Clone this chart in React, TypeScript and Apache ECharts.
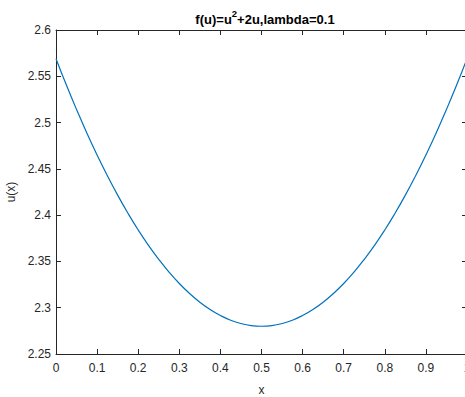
import React, { useEffect, useRef } from "react";
import * as echarts from "echarts";

const xValues = [
  0, 0.025, 0.05, 0.075, 0.1, 0.125, 0.15, 0.175, 0.2, 0.225, 0.25, 0.275, 0.3, 0.325, 0.35, 0.375, 0.4, 0.425, 0.45, 0.475, 0.5,
  0.525, 0.55, 0.575, 0.6, 0.625, 0.65, 0.675, 0.7, 0.725, 0.75, 0.775, 0.8, 0.825, 0.85, 0.875, 0.9, 0.925, 0.95, 0.975, 1,
];
const uValues = [
  2.569, 2.5408, 2.5141, 2.4888, 2.465, 2.4426, 2.4216, 2.4021, 2.384, 2.3674, 2.3523, 2.3385, 2.3262, 2.3154, 2.306, 2.2981, 2.2916,
  2.2865, 2.2829, 2.2807, 2.28, 2.2807, 2.2829, 2.2865, 2.2916, 2.2981, 2.306, 2.3154, 2.3262, 2.3385, 2.3523, 2.3674, 2.384, 2.4021,
  2.4216, 2.4426, 2.465, 2.4888, 2.5141, 2.5408, 2.569,
];
const titleText = "f(u)=u{sup|2}+2u,lambda=0.1";
const xName = "x";
const yName = "u(x)";

const FONT = "Liberation Sans, Arial, Helvetica, sans-serif";
const AX = "#262626";

export default function App() {
  const ref = useRef<HTMLDivElement>(null);
  useEffect(() => {
    if (!ref.current) return;
    const chart = echarts.init(ref.current, undefined, { renderer: "svg" });
    const axisCommon = {
      axisLine: { show: true, onZero: false, lineStyle: { color: AX, width: 1 } },
      axisTick: { show: true, inside: true, length: 5, lineStyle: { color: AX, width: 1 } },
      splitLine: { show: false },
    };
    chart.setOption({
      animation: false,
      backgroundColor: "#ffffff",
      title: {
        text: titleText,
        left: 260,
        textAlign: "center",
        top: 3,
        textStyle: {
          fontFamily: FONT,
          fontSize: 13,
          fontWeight: "bold",
          color: "#000",
          lineHeight: 22,
          rich: {
            sup: { fontFamily: FONT, fontSize: 9.5, fontWeight: "bold", color: "#000", lineHeight: 10, verticalAlign: "top" },
          },
        },
      },
      grid: { left: 56, top: 30, width: 411, height: 324, containLabel: false, outerBoundsMode: "none" },
      xAxis: [
        {
          type: "value",
          min: 0,
          max: 1,
          interval: 0.1,
          position: "bottom",
          name: xName,
          nameLocation: "middle",
          nameGap: 30,
          nameTextStyle: { fontFamily: FONT, fontSize: 12, color: AX },
          axisLabel: {
            fontFamily: FONT,
            fontSize: 12,
            color: AX,
            margin: 8,
            showMaxLabel: true,
            hideOverlap: false,
            formatter: (v: number) => String(+v.toFixed(2)),
          },
          ...axisCommon,
        },
        {
          type: "value",
          min: 0,
          max: 1,
          interval: 0.1,
          position: "top",
          axisLabel: { show: false },
          ...axisCommon,
        },
      ],
      yAxis: [
        {
          type: "value",
          min: 2.25,
          max: 2.6,
          interval: 0.05,
          position: "left",
          name: yName,
          nameLocation: "middle",
          nameGap: 38,
          nameRotate: 90,
          nameTextStyle: { fontFamily: FONT, fontSize: 12, color: AX },
          axisLabel: {
            fontFamily: FONT,
            fontSize: 12,
            color: AX,
            margin: 5,
            formatter: (v: number) => String(+v.toFixed(2)),
          },
          ...axisCommon,
        },
        {
          type: "value",
          min: 2.25,
          max: 2.6,
          interval: 0.05,
          position: "right",
          axisLabel: { show: false },
          ...axisCommon,
        },
      ],
      series: [
        {
          type: "line",
          xAxisIndex: 0,
          yAxisIndex: 0,
          data: xValues.map((x, i) => [x, uValues[i]]),
          smooth: true,
          showSymbol: false,
          symbol: "none",
          clip: true,
          lineStyle: { color: "#0072BD", width: 1.2 },
        },
      ],
    });
    return () => chart.dispose();
  }, []);
  return <div ref={ref} style={{ position: "absolute", left: 0, top: 0, width: 465, height: 397 }} />;
}
